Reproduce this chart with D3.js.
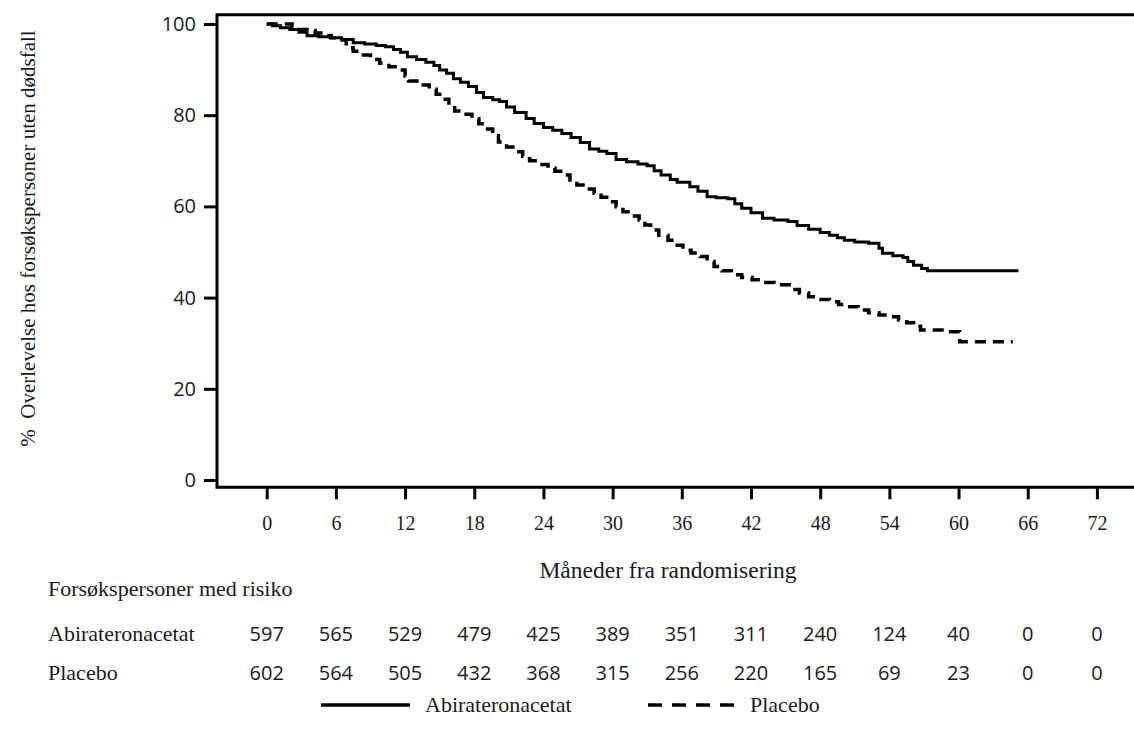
<!DOCTYPE html>
<html>
<head>
<meta charset="utf-8">
<script src="https://cdn.jsdelivr.net/npm/d3@7"></script>
<style>
  html, body { margin: 0; padding: 0; background: #fff; }
  svg { display: block; }
</style>
</head>
<body>
<svg id="chart" width="1134" height="731"></svg>
<script>
// Kaplan–Meier survival, months since randomisation
const months = [0, 6, 12, 18, 24, 30, 36, 42, 48, 54, 60, 66, 72];
const yTicks = [0, 20, 40, 60, 80, 100];

const abirateroneCurve = [
  [0, 100], [0.5, 99.6], [1.2, 99.2], [2, 98.8], [2.8, 98.2], [3.5, 97.4], [4.5, 97.2],
  [5.5, 97.0], [6.5, 96.6], [7.5, 95.9], [8.5, 95.6], [9.5, 95.3], [10.3, 95.0], [11, 94.4],
  [11.6, 93.8], [12.2, 92.8], [13, 92.2], [13.8, 91.6], [14.5, 90.9], [15, 89.9], [15.6, 89.2],
  [16.2, 88.0], [16.8, 87.2], [17.5, 86.3], [18.2, 85.0], [18.8, 83.9], [19.6, 83.4], [20.2, 83.0],
  [20.8, 81.8], [21.5, 80.6], [22.5, 79.3], [23.2, 78.2], [24.0, 77.3], [24.8, 76.7], [25.6, 76.0],
  [26.4, 75.1], [27.2, 74.0], [28.0, 72.6], [28.8, 72.1], [29.5, 71.6], [30.3, 70.3], [31.2, 69.8],
  [32.2, 69.3], [33.0, 68.9], [33.6, 67.8], [34.2, 66.9], [35.0, 65.9], [35.6, 65.3], [36.7, 64.3],
  [37.4, 63.3], [38.2, 62.1], [39.0, 61.9], [40.0, 61.7], [40.6, 60.6], [41.2, 59.6], [42.0, 58.6],
  [43.0, 57.4], [44.0, 57.0], [45.2, 56.7], [46.0, 55.8], [47.0, 55.0], [48.0, 54.3], [48.8, 53.7],
  [49.5, 53.1], [50.1, 52.6], [51.0, 52.2], [52.2, 51.9], [53.1, 50.8], [53.4, 49.7], [54.3, 49.2],
  [55.2, 48.8], [55.6, 47.9], [56.1, 47.1], [56.8, 46.4], [57.3, 45.9], [65.2, 45.9]
];

const placeboCurve = [
  [0, 100], [1.5, 100], [2.2, 99.5], [2.8, 98.8], [3.5, 98.6], [4.2, 98.0], [5.0, 97.5],
  [5.6, 97.0], [6.3, 96.5], [6.9, 94.8], [7.5, 94.0], [8.1, 93.2], [9.0, 92.2], [9.8, 91.4],
  [10.6, 90.6], [11.4, 89.9], [12.0, 88.6], [12.3, 87.5], [13.2, 86.6], [14.1, 85.7], [14.7, 84.6],
  [15.3, 83.5], [15.8, 82.1], [16.3, 80.9], [17.0, 80.2], [17.8, 79.2], [18.4, 78.1], [19.0, 77.0],
  [19.6, 75.5], [20.1, 74.1], [20.8, 73.0], [21.5, 72.0], [22.2, 71.0], [22.8, 70.0], [23.6, 69.2],
  [24.4, 68.4], [25.0, 67.7], [25.7, 66.9], [26.3, 65.8], [26.9, 64.7], [27.6, 63.8], [28.4, 62.9],
  [29.0, 62.0], [29.7, 61.0], [30.3, 59.9], [30.9, 58.8], [31.6, 57.9], [32.3, 57.0], [32.8, 55.9],
  [33.3, 54.8], [34.0, 53.7], [34.8, 52.6], [35.4, 51.5], [36.1, 50.4], [36.8, 49.8], [37.6, 49.0],
  [38.2, 47.9], [38.8, 46.8], [39.5, 45.9], [40.3, 45.0], [41.2, 44.4], [42.1, 43.9], [43.0, 43.3],
  [44.0, 42.8], [45.5, 41.8], [46.2, 41.0], [47.0, 40.2], [47.9, 39.6], [48.8, 39.1], [49.6, 38.5],
  [50.4, 38.0], [51.3, 37.3], [52.2, 36.7], [53.1, 36.2], [54.0, 35.8], [54.8, 35.1], [55.5, 34.5],
  [56.1, 33.7], [56.7, 32.9], [58.9, 32.5], [60.1, 30.3], [64.7, 30.3]
];

// Numbers at risk
const atRiskAbiraterone = [597, 565, 529, 479, 425, 389, 351, 311, 240, 124, 40, 0, 0];
const atRiskPlacebo = [602, 564, 505, 432, 368, 315, 256, 220, 165, 69, 23, 0, 0];

const groupNames = ["Abirateronacetat", "Placebo"];
const xTitle = "Måneder fra randomisering";
const yTitle = "%\u00A0 Overlevelse hos forsøkspersoner uten dødsfall";
const riskTitle = "Forsøkspersoner med risiko";

// Layout
const W = 1134;
const frameLeft = 217, frameTop = 14.7, frameBottom = 487.3;
const serif = "'Liberation Serif', 'Times New Roman', serif";
const sans = "'Open Sans', 'Noto Sans', sans-serif";
const ink = "#1a1a1a";

const svg = d3.select("#chart");

const x = d3.scaleLinear().domain([0, 72]).range([266.7, 1096.9]);
const y = d3.scaleLinear().domain([0, 100]).range([480, 24]);

// Open frame: top, left, bottom
svg.append("path")
  .attr("d", `M${W},${frameTop}H${frameLeft}V${frameBottom}H${W}`)
  .attr("fill", "none").attr("stroke", "#000").attr("stroke-width", 3);

// Y axis
const yAxis = svg.append("g")
  .attr("transform", `translate(${frameLeft},0)`)
  .call(d3.axisLeft(y).tickValues(yTicks).tickSize(13).tickPadding(8));
yAxis.select(".domain").remove();
yAxis.selectAll(".tick line").attr("stroke", "#000").attr("stroke-width", 3);
yAxis.selectAll(".tick text")
  .attr("font-family", sans).attr("font-size", 20).attr("fill", ink);

// X axis
const xAxis = svg.append("g")
  .attr("transform", `translate(0,${frameBottom})`)
  .call(d3.axisBottom(x).tickValues(months).tickSize(12));
xAxis.select(".domain").remove();
xAxis.selectAll(".tick line").attr("stroke", "#000").attr("stroke-width", 3);
xAxis.selectAll(".tick text")
  .attr("font-family", serif).attr("font-size", 20).attr("fill", ink)
  .attr("y", 43).attr("dy", 0);

// Axis titles
svg.append("text")
  .attr("x", 668).attr("y", 578)
  .attr("text-anchor", "middle")
  .attr("font-family", serif).attr("font-size", 23.5).attr("fill", ink)
  .text(xTitle);

svg.append("text")
  .attr("transform", "translate(35,238.5) rotate(-90)")
  .attr("text-anchor", "middle")
  .attr("font-family", serif).attr("font-size", 21).attr("fill", ink)
  .text(yTitle);

// Survival curves
const line = d3.line()
  .x(d => x(d[0]))
  .y(d => y(d[1]))
  .curve(d3.curveStepAfter);

svg.append("path")
  .datum(abirateroneCurve)
  .attr("d", line)
  .attr("fill", "none").attr("stroke", "#000").attr("stroke-width", 3)
  .attr("stroke-linejoin", "miter");

svg.append("path")
  .datum(placeboCurve)
  .attr("d", line)
  .attr("fill", "none").attr("stroke", "#000").attr("stroke-width", 3.5)
  .attr("stroke-dasharray", "11,7");

// Number at risk table
svg.append("text")
  .attr("x", 48).attr("y", 596)
  .attr("font-family", serif).attr("font-size", 22).attr("fill", ink)
  .text(riskTitle);

const rows = [
  { name: groupNames[0], values: atRiskAbiraterone, baseline: 641 },
  { name: groupNames[1], values: atRiskPlacebo, baseline: 680 }
];

rows.forEach(r => {
  svg.append("text")
    .attr("x", 48).attr("y", r.baseline)
    .attr("font-family", serif).attr("font-size", 22).attr("fill", ink)
    .text(r.name);
  svg.append("g").selectAll("text")
    .data(r.values)
    .join("text")
    .attr("x", (d, i) => x(months[i]))
    .attr("y", r.baseline)
    .attr("text-anchor", "middle")
    .attr("font-family", sans).attr("font-size", 20).attr("fill", ink)
    .text(d => d);
});

// Legend
const legend = svg.append("g");
const legendItems = [
  { name: groupNames[0], x0: 321, x1: 410, dash: null, tx: 425 },
  { name: groupNames[1], x0: 648, x1: 735, dash: "14,10", tx: 750 }
];
legendItems.forEach(it => {
  legend.append("line")
    .attr("x1", it.x0).attr("x2", it.x1)
    .attr("y1", 705).attr("y2", 705)
    .attr("stroke", "#000").attr("stroke-width", 3.5)
    .attr("stroke-dasharray", it.dash);
  legend.append("text")
    .attr("x", it.tx).attr("y", 712)
    .attr("font-family", serif).attr("font-size", 22).attr("fill", ink)
    .text(it.name);
});
</script>
</body>
</html>
